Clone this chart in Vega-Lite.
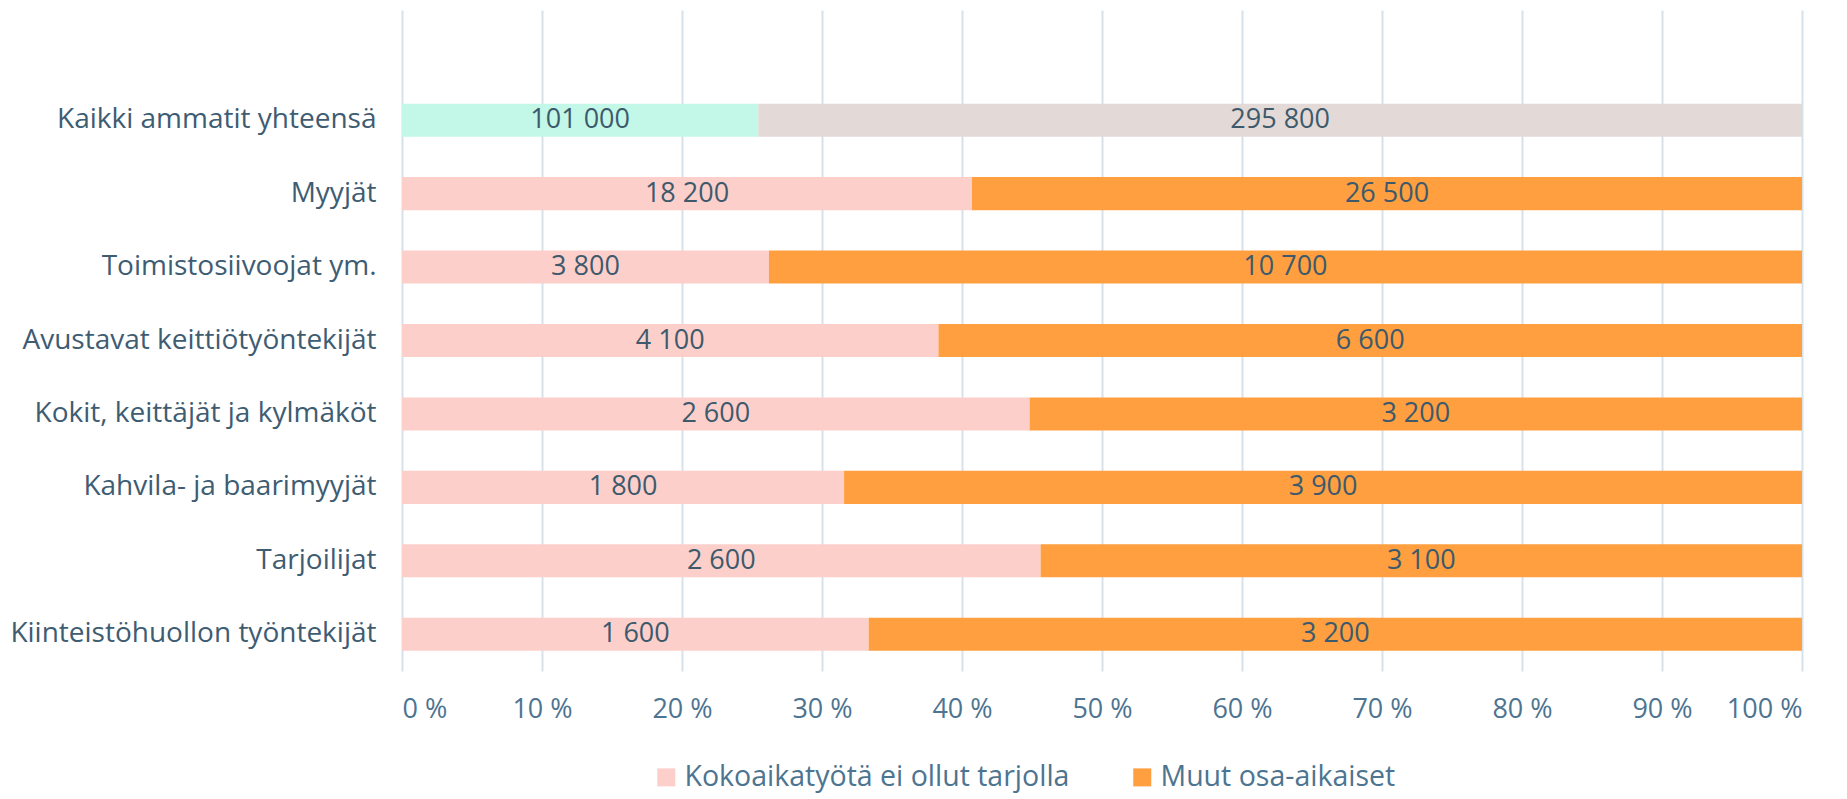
{
  "$schema": "https://vega.github.io/schema/vega-lite/v6.json",
  "width": 1400,
  "height": 661,
  "autosize": {"type": "none"},
  "padding": {"left": 402, "top": 10, "right": 45, "bottom": 128},
  "config": {
    "locale": {"number": {"decimal": ",", "thousands": "\u00a0", "grouping": [3], "currency": ["", " €"]}},
    "view": {"stroke": null},
    "font": "Open Sans"
  },
  "data": {
    "values": [
      {"cat": "Kaikki ammatit yhteensä", "group": "total", "series": "Kokoaikatyötä ei ollut tarjolla", "ord": 1, "value": 101000},
      {"cat": "Kaikki ammatit yhteensä", "group": "total", "series": "Muut osa-aikaiset", "ord": 2, "value": 295800},
      {"cat": "Myyjät", "group": "occ", "series": "Kokoaikatyötä ei ollut tarjolla", "ord": 1, "value": 18200},
      {"cat": "Myyjät", "group": "occ", "series": "Muut osa-aikaiset", "ord": 2, "value": 26500},
      {"cat": "Toimistosiivoojat ym.", "group": "occ", "series": "Kokoaikatyötä ei ollut tarjolla", "ord": 1, "value": 3800},
      {"cat": "Toimistosiivoojat ym.", "group": "occ", "series": "Muut osa-aikaiset", "ord": 2, "value": 10700},
      {"cat": "Avustavat keittiötyöntekijät", "group": "occ", "series": "Kokoaikatyötä ei ollut tarjolla", "ord": 1, "value": 4100},
      {"cat": "Avustavat keittiötyöntekijät", "group": "occ", "series": "Muut osa-aikaiset", "ord": 2, "value": 6600},
      {"cat": "Kokit, keittäjät ja kylmäköt", "group": "occ", "series": "Kokoaikatyötä ei ollut tarjolla", "ord": 1, "value": 2600},
      {"cat": "Kokit, keittäjät ja kylmäköt", "group": "occ", "series": "Muut osa-aikaiset", "ord": 2, "value": 3200},
      {"cat": "Kahvila- ja baarimyyjät", "group": "occ", "series": "Kokoaikatyötä ei ollut tarjolla", "ord": 1, "value": 1800},
      {"cat": "Kahvila- ja baarimyyjät", "group": "occ", "series": "Muut osa-aikaiset", "ord": 2, "value": 3900},
      {"cat": "Tarjoilijat", "group": "occ", "series": "Kokoaikatyötä ei ollut tarjolla", "ord": 1, "value": 2600},
      {"cat": "Tarjoilijat", "group": "occ", "series": "Muut osa-aikaiset", "ord": 2, "value": 3100},
      {"cat": "Kiinteistöhuollon työntekijät", "group": "occ", "series": "Kokoaikatyötä ei ollut tarjolla", "ord": 1, "value": 1600},
      {"cat": "Kiinteistöhuollon työntekijät", "group": "occ", "series": "Muut osa-aikaiset", "ord": 2, "value": 3200}
    ]
  },
  "transform": [
    {"stack": "value", "groupby": ["cat"], "sort": [{"field": "ord"}], "offset": "normalize", "as": ["x0", "x1"]},
    {"calculate": "(datum.x0 + datum.x1) / 2", "as": "xm"},
    {"calculate": "datum.group == 'total' ? datum.series + ' (total)' : datum.series", "as": "key"}
  ],
  "encoding": {
    "y": {
      "field": "cat",
      "type": "nominal",
      "scale": {
        "domain": [" ", "Kaikki ammatit yhteensä", "Myyjät", "Toimistosiivoojat ym.", "Avustavat keittiötyöntekijät", "Kokit, keittäjät ja kylmäköt", "Kahvila- ja baarimyyjät", "Tarjoilijat", "Kiinteistöhuollon työntekijät"],
        "paddingInner": 0.55,
        "paddingOuter": 0.275
      },
      "axis": {"title": null, "ticks": false, "domain": false, "labelFontSize": 28, "labelPadding": 26, "labelColor": "#3e5c72", "labelLimit": 600}
    }
  },
  "layer": [
    {
      "mark": {"type": "bar"},
      "encoding": {
        "x": {
          "field": "x0",
          "type": "quantitative",
          "scale": {"domain": [0, 1]},
          "axis": {
            "title": null,
            "values": [0, 0.1, 0.2, 0.3, 0.4, 0.5, 0.6, 0.7, 0.8, 0.9, 1],
            "labelExpr": "round(datum.value * 100) + ' %'",
            "grid": true, "gridColor": "#d7e1ea", "gridWidth": 2,
            "ticks": false, "domain": false,
            "labelFontSize": 27, "labelColor": "#4d7490", "labelPadding": 25
          }
        },
        "x2": {"field": "x1"},
        "color": {
          "field": "key",
          "type": "nominal",
          "scale": {
            "domain": ["Kokoaikatyötä ei ollut tarjolla", "Muut osa-aikaiset", "Kokoaikatyötä ei ollut tarjolla (total)", "Muut osa-aikaiset (total)"],
            "range": ["#fccfcb", "#ff9f40", "#c3f7e8", "#e3d9d7"]
          },
          "legend": {
            "title": null,
            "values": ["Kokoaikatyötä ei ollut tarjolla", "Muut osa-aikaiset"],
            "orient": "none",
            "legendX": 250,
            "legendY": 753,
            "direction": "horizontal",
            "symbolType": "square",
            "symbolSize": 324,
            "symbolStrokeWidth": 0,
            "labelFontSize": 28.5,
            "labelColor": "#4d7490",
            "labelLimit": 800,
            "columnPadding": 58
          }
        }
      }
    },
    {
      "mark": {"type": "text", "fontSize": 27, "color": "#3d5a6c"},
      "encoding": {
        "x": {"field": "xm", "type": "quantitative"},
        "text": {"field": "value", "type": "quantitative", "format": ","}
      }
    }
  ]
}
